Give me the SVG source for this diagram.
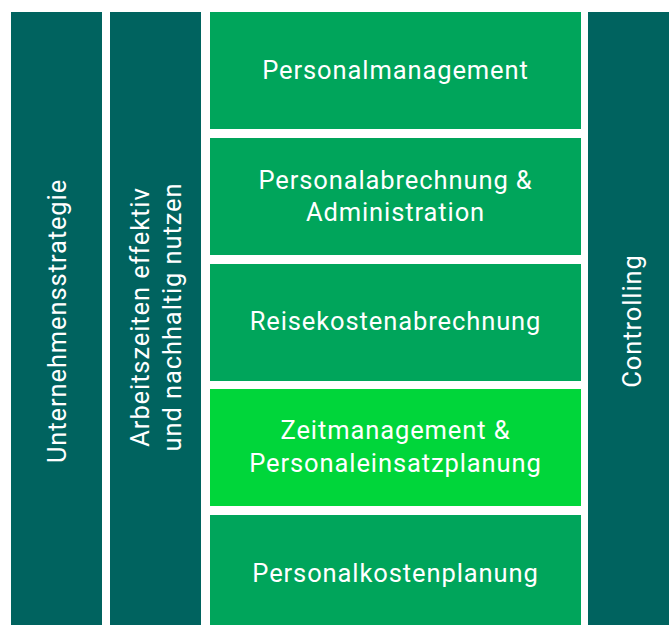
<svg xmlns="http://www.w3.org/2000/svg" width="669" height="625" viewBox="0 0 669 625">
<style>
.dark{fill:#00635F}
.mid{fill:#00A55B}
.hi{fill:#00D63A}
text{font-family:Roboto,"Noto Sans","DejaVu Sans",sans-serif;font-size:25.5px;font-weight:400;fill:#ffffff;text-anchor:middle;dominant-baseline:central;letter-spacing:0.9px}
</style>
<rect width="669" height="625" fill="#ffffff"/>
<g id="unternehmensstrategie">
<rect class="dark" x="11" y="12" width="91" height="613"/>
<text transform="translate(57,321) rotate(-90)">Unternehmensstrategie</text>
</g>
<g id="arbeitszeiten">
<rect class="dark" x="110" y="12" width="91" height="613"/>
<text transform="translate(140,317) rotate(-90)">Arbeitszeiten effektiv</text>
<text transform="translate(172,317) rotate(-90)">und nachhaltig nutzen</text>
</g>
<g id="personalmanagement">
<rect class="mid" x="210" y="12" width="371" height="117"/>
<text x="395.5" y="70">Personalmanagement</text>
</g>
<g id="personalabrechnung">
<rect class="mid" x="210" y="138" width="371" height="117"/>
<text x="395.5" y="180">Personalabrechnung &amp;</text>
<text x="395.5" y="212">Administration</text>
</g>
<g id="reisekosten">
<rect class="mid" x="210" y="264" width="371" height="117"/>
<text x="395.5" y="321">Reisekostenabrechnung</text>
</g>
<g id="zeitmanagement">
<rect class="hi" x="210" y="389" width="371" height="117"/>
<text x="395.5" y="430">Zeitmanagement &amp;</text>
<text x="395.5" y="463">Personaleinsatzplanung</text>
</g>
<g id="personalkosten">
<rect class="mid" x="210" y="515" width="371" height="110"/>
<text x="395.5" y="573">Personalkostenplanung</text>
</g>
<g id="controlling">
<rect class="dark" x="588" y="12" width="81" height="613"/>
<text transform="translate(632,321) rotate(-90)">Controlling</text>
</g>
<g id="connectors"></g>
</svg>
